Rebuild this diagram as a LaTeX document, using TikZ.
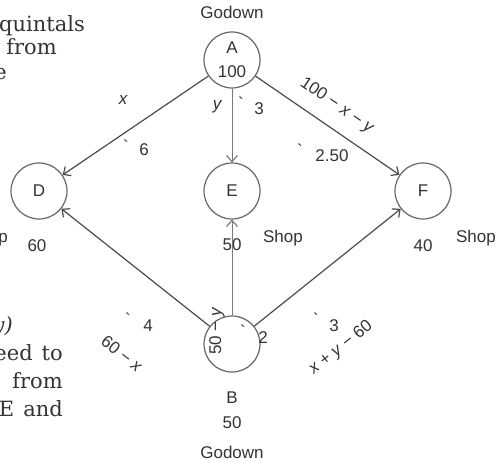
\documentclass[tikz,border=0pt]{standalone}
\usepackage{fontspec}
\setmainfont{Liberation Sans}
\newfontfamily\pageserif{DejaVu Serif}
\usetikzlibrary{arrows.meta}
\definecolor{ink}{HTML}{333333}
\definecolor{edge}{HTML}{4A4A4A}
\definecolor{edgelight}{HTML}{7A7A7A}
\definecolor{ring}{HTML}{666666}
\tikzset{
  circ/.style={circle, draw=ring, line width=1.2pt, minimum size=56pt, inner sep=0pt, text=ink, align=center,
    font=\fontsize{17}{24}\selectfont},
  lbl/.style={text=ink, inner sep=0pt, font=\fontsize{17}{20}\selectfont},
  frag/.style={text=ink, inner sep=0pt, font=\pageserif\fontsize{21}{24}\selectfont, anchor=base east},
  arr/.style={draw=edge, line width=1.2pt, -{Straight Barb[length=6pt,width=11pt,line width=1.2pt]}},
  arrl/.style={arr, draw=edgelight, line width=0.9pt},
}
\begin{document}
\begin{tikzpicture}[x=1pt,y=-1pt]
\useasboundingbox (0,0) rectangle (500,462);
% fragments of the surrounding page
\node[frag] (f0) at (85,32) {quintals};
\node[frag] (f1) at (57,55) {from};
\node[frag] (f2) at (7,80) {e};
\node[frag] (f3) at (83,-5) {p};
\node[frag] (f4) at (13,332) {\itshape y)};
\node[frag] (f5) at (63,360) {eed\hspace{9pt}to};
\node[frag] (f6) at (63,388) {from};
\node[frag] (f7) at (63,416) {E\hspace{9pt}and};
% nodes
\node[circ] (A) at (232,60) {A\\100};
\node[circ] (D) at (39,191) {D};
\node[circ] (E) at (232,191) {E};
\node[circ] (F) at (423,191) {F};
\node[circ] (B) at (232,344) {};
% node texts
\node[lbl] (gA) at (232,12) {Godown};
\node[lbl] (dD) at (37,246) {60};
\node[lbl, anchor=east] (sD) at (8,238) {Shop};
\node[lbl] (dE) at (232,245) {50};
\node[lbl] (sE) at (283,238) {Shop};
\node[lbl] (dF) at (423,246) {40};
\node[lbl] (sF) at (476,238) {Shop};
\node[lbl] (nB) at (232,398) {B};
\node[lbl] (sB) at (232,423) {50};
\node[lbl] (gB) at (232,452) {Godown};
% connectors
\draw[arr] (A) -- (D);
\draw[arrl] (A) -- (E);
\draw[arr] (A) -- (F);
\draw[arr] (B) -- (D);
\draw[arrl] (B) -- (E);
\draw[arr] (B) -- (F);
% edge labels
\node[lbl] (lx) at (123,100) {\itshape x};
\node[lbl] (g6) at (126,146) {\textasciigrave};
\node[lbl] (c6) at (144,150) {6};
\node[lbl] (ly) at (217,107) {\itshape y};
\node[lbl] (g3) at (241,103) {\textasciigrave};
\node[lbl] (c3) at (259,109) {3};
\node[lbl, rotate=-34.4] (lAF) at (337,106) {100 − \textit{x} − \textit{y}};
\node[lbl] (g25) at (300,150) {\textasciigrave};
\node[lbl] (c25) at (332,156) {2.50};
\node[lbl] (g4) at (128,319) {\textasciigrave};
\node[lbl] (c4) at (148,326) {4};
\node[lbl, rotate=-38.4] (lBD) at (122,354) {60 − \textit{x}};
\node[lbl, rotate=90] (lBE) at (217,331) {50 − \textit{y}};
\node[lbl] (g2) at (243,331) {\textasciigrave};
\node[lbl] (c2) at (263,338) {2};
\node[lbl] (g3b) at (316,319) {\textasciigrave};
\node[lbl] (c3b) at (334,326) {3};
\node[lbl, rotate=38.4] (lBF) at (341,348) {\textit{x} + \textit{y} − 60};
\end{tikzpicture}
\end{document}
